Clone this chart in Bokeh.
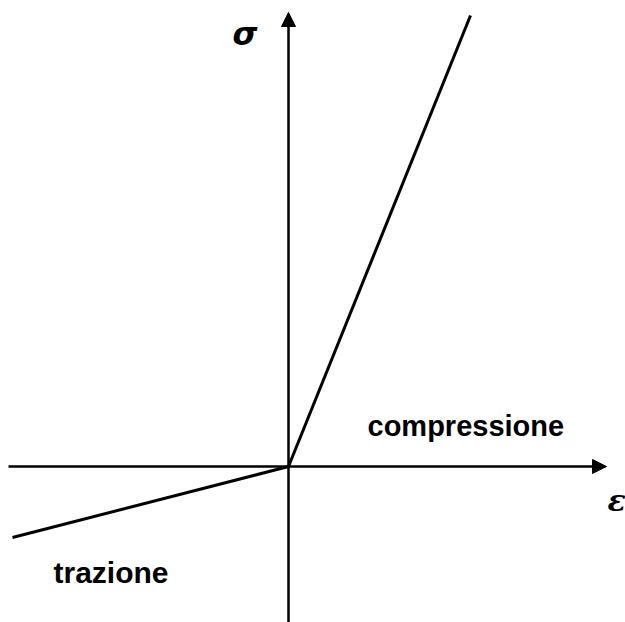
from bokeh.plotting import figure
from bokeh.models import Range1d, Arrow, NormalHead, Label
from bokeh.embed import file_html
from bokeh.resources import INLINE

# Diagram data (abstract stress-strain units, origin at 0,0)
eps_comp = [0, 182]
sig_comp = [0, 451]
eps_trac = [-276, 0]
sig_trac = [-71, 0]

label_comp = "compressione"
label_trac = "trazione"
label_sigma = "σ"
label_eps = "ε"

p = figure(width=625, height=622, output_backend="svg", toolbar_location=None,
           x_range=Range1d(-288, 337), y_range=Range1d(-156, 466),
           min_border=0, min_border_left=0, min_border_right=0,
           min_border_top=0, min_border_bottom=0)
p.axis.visible = False
p.grid.visible = False
p.outline_line_color = None
p.background_fill_color = "white"
p.border_fill_color = "white"

# axes with arrows
p.add_layout(Arrow(end=NormalHead(size=14, fill_color="black", line_color="black"),
                   x_start=-280, y_start=0, x_end=318, y_end=0,
                   line_width=2.5, line_color="black"))
p.add_layout(Arrow(end=NormalHead(size=14, fill_color="black", line_color="black"),
                   x_start=0, y_start=-160, x_end=0, y_end=454,
                   line_width=2.5, line_color="black"))

p.line(eps_comp, sig_comp, line_width=3, line_color="black")
p.line(eps_trac, sig_trac, line_width=3, line_color="black")

p.add_layout(Label(x=-56, y=433, text=label_sigma, text_font="DejaVu Sans",
                   text_font_style="bold italic", text_font_size="32px",
                   text_align="left", text_baseline="alphabetic", text_color="black"))
p.add_layout(Label(x=319, y=-34, text=label_eps, text_font="DejaVu Serif",
                   text_font_style="bold italic", text_font_size="30px",
                   text_align="left", text_baseline="alphabetic", text_color="black"))
p.add_layout(Label(x=79, y=41, text=label_comp, text_font="Liberation Sans",
                   text_font_style="bold", text_font_size="29px",
                   text_align="left", text_baseline="alphabetic", text_color="black"))
p.add_layout(Label(x=-235, y=-106, text=label_trac, text_font="Liberation Sans",
                   text_font_style="bold", text_font_size="30px",
                   text_align="left", text_baseline="alphabetic", text_color="black"))

open("out.html", "w").write(file_html(p, INLINE))
